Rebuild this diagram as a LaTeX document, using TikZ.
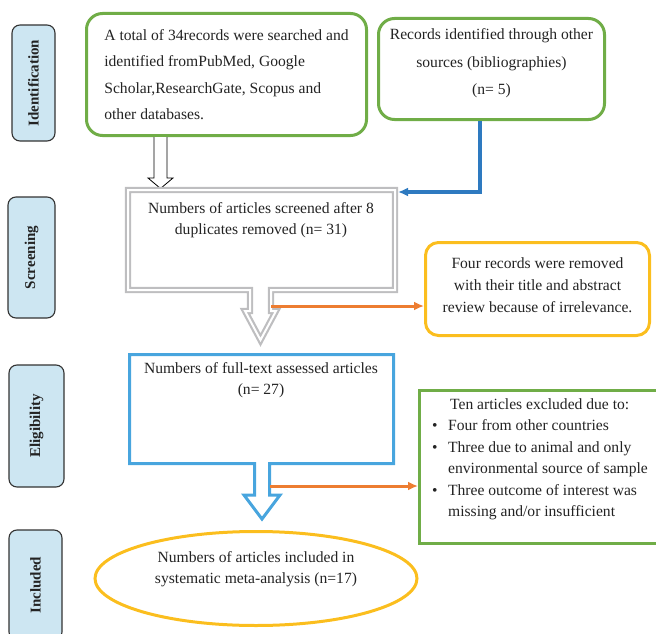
\documentclass[tikz,border=0pt]{standalone}
\usepackage{fontspec}
\setmainfont{Liberation Serif}
\usepackage{xcolor}
\usepackage{tikz}
\usetikzlibrary{arrows.meta,positioning,shapes.geometric,calc}

\definecolor{prgreen}{RGB}{112,173,71}
\definecolor{pryellow}{RGB}{251,190,30}
\definecolor{prorange}{RGB}{237,125,49}
\definecolor{prblue}{RGB}{46,122,192}
\definecolor{prlblue}{RGB}{72,165,222}
\definecolor{prgray}{RGB}{190,190,192}
\definecolor{stagefill}{RGB}{205,230,242}
\definecolor{txtgray}{RGB}{35,35,35}

\newcommand{\bulitem}{\makebox[16pt][l]{\textbullet}}

\begin{document}
\begin{tikzpicture}[x=1pt, y=-1pt,
    every node/.style={text=txtgray},
    stage/.style={rectangle, rounded corners=8pt, draw=black!80, line width=1.1pt, fill=stagefill, rotate=90, font=\fontsize{15}{18}\selectfont\bfseries},
    greenbox/.style={rectangle, rounded corners=16pt, draw=prgreen, line width=3pt, font=\fontsize{15.6}{26.5}\selectfont},
    yellowbox/.style={rectangle, rounded corners=13pt, draw=pryellow, line width=3pt, align=center, font=\fontsize{15.6}{22}\selectfont},
    plain/.style={align=center, font=\fontsize{15.6}{21}\selectfont},
    listbox/.style={rectangle, draw=prgreen, line width=3pt, align=left, font=\fontsize{15.6}{21.5}\selectfont},
    ovalbox/.style={ellipse, draw=pryellow, line width=3pt, align=center, font=\fontsize{15.6}{21}\selectfont},
    arr/.style={-{Latex[length=10pt, width=9pt]}, line width=3pt}
]
\useasboundingbox (0,0) rectangle (656,634);

% stages
\node[stage, minimum width=116pt, minimum height=43pt] (ident) at (33.5,83) {Identification};
\node[stage, minimum width=121pt, minimum height=47pt] (screening) at (31.5,257.5) {Screening};
\node[stage, minimum width=122pt, minimum height=55pt] (eligibility) at (36.5,426) {Eligibility};
\node[stage, minimum width=110pt, minimum height=53pt] (included) at (35.5,585) {Included};

% identification
\node[greenbox, align=left, minimum width=280pt, minimum height=122pt] (search) at (226.5,74.5) {A total of 34records were searched and\\identified fromPubMed, Google\\Scholar,ResearchGate, Scopus and\\other databases.};
\node[greenbox, align=center, minimum width=226pt, minimum height=101pt, font=\fontsize{15.6}{27.5}\selectfont, text depth=14pt] (other) at (491.5,69) {Records identified through other\\sources (bibliographies)\\(n= 5)};

\draw[black, line width=0.8pt, fill=white] (154,137) -- (154,178) -- (148,178) -- (160.5,188.5) -- (173,178) -- (167,178) -- (167,137);

% screening
\draw[draw=prgray, line width=2.2pt, double=white, double distance=2pt] (128,190) -- (395,190) -- (395,290) -- (271,290) -- (271,311) -- (276,311) -- (260.5,340) -- (245,311) -- (250,311) -- (250,290) -- (128,290) -- cycle;
\node[plain] (screen) at (261,220) {Numbers of articles screened after 8\\duplicates removed (n= 31)};
\node[yellowbox, minimum width=224pt, minimum height=93pt, text depth=8pt] (removed) at (537.5,289) {Four records were removed\\with their title and abstract\\review because of irrelevance.};
\coordinate (scrcorner) at (398,192);
\coordinate (scrshaft) at (271,306);

% eligibility
\draw[draw=prlblue, line width=3pt] (129.5,354.5) -- (393.5,354.5) -- (393.5,463.5) -- (269.5,463.5) -- (269.5,495) -- (280,495) -- (262,519) -- (244,495) -- (254.5,495) -- (254.5,463.5) -- (129.5,463.5) -- cycle;
\node[plain] (fulltext) at (261,380) {Numbers of full-text assessed articles\\(n= 27)};
\node[listbox, minimum width=241pt, minimum height=153pt, text depth=18.5pt] (excluded) at (540,467) {\hspace*{18pt}Ten articles excluded due to:\\
\bulitem Four from other countries\\
\bulitem Three due to animal and only\\
\hspace*{16pt}environmental source of sample\\
\bulitem Three outcome of interest was\\
\hspace*{16pt}missing and/or insufficient};
\coordinate (ftshaft) at (269.5,486);

% included
\node[ovalbox, minimum width=322pt, minimum height=94pt, text depth=21pt] (included) at (256,578.5) {Numbers of articles included in\\systematic meta-analysis (n=17)};

\draw[arr, prblue, line width=3.4pt] ($(other.south)+(-11.5,0)$) |- (scrcorner);
\draw[arr, prorange] (scrshaft) -- (scrshaft -| removed.west);
\draw[arr, prorange] (ftshaft) -- (ftshaft -| excluded.west);
\end{tikzpicture}
\end{document}
